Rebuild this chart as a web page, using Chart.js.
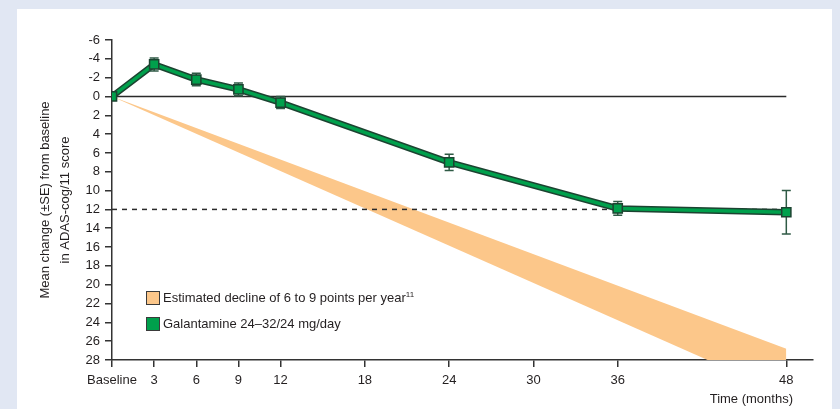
<!DOCTYPE html>
<html>
<head>
<meta charset="utf-8">
<script src="https://cdn.jsdelivr.net/npm/chart.js@4"></script>
<style>
    html, body { margin: 0; padding: 0; }
    body { width: 840px; height: 409px; background: #e1e7f3; position: relative; overflow: hidden;
           font-family: 'Liberation Sans', Arial, sans-serif; color: #231f20; }
    .panel { position: absolute; left: 17px; top: 9px; width: 815px; height: 400px; background: #fff; }
    #chartBox { position: absolute; left: 0; top: 0; width: 840px; height: 409px; }
    .legend-item { position: absolute; left: 146px; font-size: 13px; line-height: 16px; white-space: nowrap; }
    .legend-item .swatch { position: absolute; left: 0; top: 1px; width: 12px; height: 12px; border: 1px solid #3a3a3a; }
    .legend-item .label { position: absolute; left: 17px; top: 0; }
    .legend-item sup { font-size: 8px; vertical-align: 5px; line-height: 0; }
    .axis-title { position: absolute; right: 47px; top: 391px; font-size: 13px; line-height: 16px; }
</style>
</head>
<body>
<div class="panel"></div>
<div id="chartBox"><canvas id="adasChart" width="840" height="409"></canvas></div>
<div class="legend-item" style="top:290px"><span class="swatch" style="background:#fcc78a"></span><span class="label">Estimated decline of 6 to 9 points per year<sup>11</sup></span></div>
<div class="legend-item" style="top:316px"><span class="swatch" style="background:#00a04c"></span><span class="label">Galantamine 24–32/24 mg/day</span></div>
<div class="axis-title">Time (months)</div>
<script>
// Galantamine ADAS-cog/11 mean change from baseline
const months = [0, 3, 6, 9, 12, 24, 36, 48];
const meanChange = [0, -3.4, -1.8, -0.75, 0.65, 7.0, 11.9, 12.3];
const standardError = [0, 0.7, 0.67, 0.67, 0.64, 0.87, 0.73, 2.3];

// Estimated decline band (6 to 9 points per year)
const declineMonths = [0, 48];
const declineUpper = [0, 26.8];
const declineLower = [0, 31.7];

// Reference lines
const zeroLine = [0, 0];
const plateauLine = [12, 12];

// Axis ticks
const tickMonths = [0, 3, 6, 9, 12, 18, 24, 30, 36, 48];
const tickLabels = ['Baseline', '3', '6', '9', '12', '18', '24', '30', '36', '48'];

const GREEN = '#00a04c';
const GREEN_DARK = '#1c4331';
const ORANGE = '#fcc78a';
const INK = '#231f20';

function toPoints(xs, ys) {
    return xs.map((x, i) => ({ x: x, y: ys[i] }));
}

Chart.defaults.font.family = "'Liberation Sans', Arial, sans-serif";
Chart.defaults.font.size = 13;
Chart.defaults.color = INK;

// error bars drawn just before the green line so the markers sit on top
const errorBars = {
    id: 'errorBars',
    beforeDatasetDraw(chart, args) {
        if (args.index !== 5) return;
        const ctx = chart.ctx;
        const xScale = chart.scales.x;
        const yScale = chart.scales.y;
        ctx.save();
        ctx.strokeStyle = '#2f5a45';
        ctx.lineWidth = 1.5;
        months.forEach((m, i) => {
            const se = standardError[i];
            if (!se) return;
            const px = xScale.getPixelForValue(m);
            const top = yScale.getPixelForValue(meanChange[i] - se);
            const bottom = yScale.getPixelForValue(meanChange[i] + se);
            ctx.beginPath();
            ctx.moveTo(px, top);
            ctx.lineTo(px, bottom);
            ctx.moveTo(px - 4.5, top);
            ctx.lineTo(px + 4.5, top);
            ctx.moveTo(px - 4.5, bottom);
            ctx.lineTo(px + 4.5, bottom);
            ctx.stroke();
        });
        ctx.restore();
    }
};

new Chart(document.getElementById('adasChart'), {
    type: 'line',
    data: {
        datasets: [
            {
                data: toPoints(declineMonths, declineUpper),
                borderWidth: 0,
                borderColor: 'rgba(0,0,0,0)',
                pointRadius: 0,
                fill: false,
                order: 10
            },
            {
                data: toPoints(declineMonths, declineLower),
                borderWidth: 0,
                borderColor: 'rgba(0,0,0,0)',
                backgroundColor: ORANGE,
                pointRadius: 0,
                fill: 0,
                order: 10
            },
            {
                data: toPoints(declineMonths, zeroLine),
                borderColor: '#2a2a2a',
                borderWidth: 1.5,
                pointRadius: 0,
                order: 8
            },
            {
                data: toPoints(declineMonths, plateauLine),
                borderColor: '#2a2a2a',
                borderWidth: 1.5,
                borderDash: [5, 5],
                pointRadius: 0,
                order: 8
            },
            {
                data: toPoints(months, meanChange),
                borderColor: GREEN_DARK,
                borderWidth: 6.5,
                pointRadius: 0,
                order: 2
            },
            {
                data: toPoints(months, meanChange),
                borderColor: GREEN,
                borderWidth: 3.5,
                pointStyle: 'rect',
                pointRadius: 6.5,
                pointBackgroundColor: GREEN,
                pointBorderColor: GREEN_DARK,
                pointBorderWidth: 1.5,
                order: 1
            }
        ]
    },
    options: {
        responsive: false,
        animation: false,
        layout: { padding: { left: 25, top: 40, right: 27, bottom: 0 } },
        plugins: {
            legend: { display: false },
            tooltip: { enabled: false }
        },
        scales: {
            x: {
                type: 'linear',
                min: 0,
                max: 49.9,
                afterBuildTicks: function(scale) {
                    scale.ticks = tickMonths.map(v => ({ value: v }));
                },
                afterFit: function(scale) {
                    scale.height = 49;
                },
                grid: { drawOnChartArea: false, drawTicks: true, tickLength: 7, color: '#333', lineWidth: 1.5 },
                border: { display: true, color: '#333', width: 1.5 },
                ticks: {
                    autoSkip: false,
                    maxRotation: 0,
                    padding: 6,
                    color: INK,
                    callback: function(value) {
                        const i = tickMonths.indexOf(value);
                        return i >= 0 ? tickLabels[i] : '';
                    }
                }
            },
            y: {
                type: 'linear',
                reverse: true,
                min: -6,
                max: 28,
                afterFit: function(scale) {
                    scale.width = 87;
                },
                grid: { drawOnChartArea: false, drawTicks: true, tickLength: 7, color: '#333', lineWidth: 1.5 },
                border: { display: true, color: '#333', width: 1.5 },
                ticks: { stepSize: 2, autoSkip: false, padding: 5, color: INK },
                title: {
                    display: true,
                    text: ['Mean change (±SE) from baseline', 'in ADAS-cog/11 score'],
                    font: { size: 13, lineHeight: 1.55 },
                    padding: { top: 10, bottom: 0 },
                    color: INK
                }
            }
        }
    },
    plugins: [errorBars]
});
</script>
</body>
</html>
